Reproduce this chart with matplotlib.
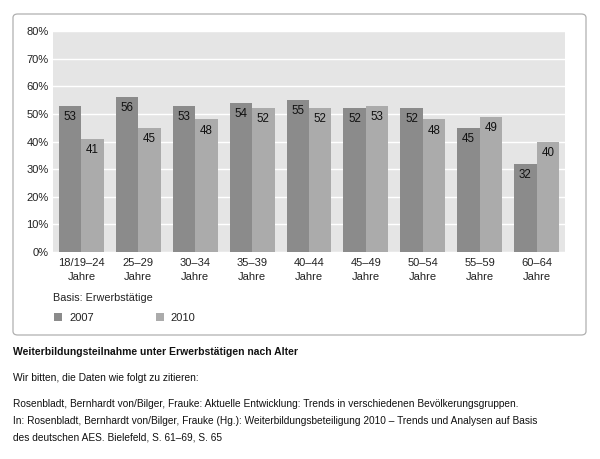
import matplotlib
matplotlib.use("Agg")
import matplotlib.pyplot as plt
from matplotlib.patches import FancyBboxPatch
import numpy as np

plt.rcParams["font.family"] = ["Liberation Sans", "DejaVu Sans"]

categories = ["18/19–24\nJahre", "25–29\nJahre", "30–34\nJahre", "35–39\nJahre",
              "40–44\nJahre", "45–49\nJahre", "50–54\nJahre", "55–59\nJahre",
              "60–64\nJahre"]
v2007 = [53, 56, 53, 54, 55, 52, 52, 45, 32]
v2010 = [41, 45, 48, 52, 52, 53, 48, 49, 40]
yticks = [0, 10, 20, 30, 40, 50, 60, 70, 80]

C2007 = "#8b8b8b"
C2010 = "#ababab"
W, H = 600, 459
FS = 7.7

fig = plt.figure(figsize=(6, 4.59), dpi=100)
fig.patch.set_facecolor("white")

# rounded frame around the chart
frame = FancyBboxPatch((13 / W, 1 - 335 / H), (586 - 13) / W, (335 - 14) / H,
                       boxstyle="round,pad=0,rounding_size=0.008",
                       transform=fig.transFigure, fc="white", ec="#b0b0b0", lw=0.9,
                       zorder=-5)
fig.patches.append(frame)

ax = fig.add_axes([53 / W, 1 - 252 / H, (565 - 53) / W, (252 - 31) / H])
ax.set_zorder(2)
ax.set_facecolor("#e5e5e5")
x = np.arange(len(categories))
bw = 0.395
b1 = ax.bar(x - bw / 2, v2007, bw, color=C2007, label="2007", zorder=3)
b2 = ax.bar(x + bw / 2, v2010, bw, color=C2010, label="2010", zorder=3)
for bars in (b1, b2):
    for rect in bars:
        h = rect.get_height()
        ax.annotate(f"{h:.0f}", (rect.get_x() + rect.get_width() / 2, h),
                    xytext=(0, -8), textcoords="offset points",
                    ha="center", va="center", fontsize=FS + 0.6, color="#111111", zorder=4)

ax.set_xlim(-0.5, len(categories) - 0.5)
ax.set_ylim(0, 80)
ax.set_yticks(yticks)
ax.set_yticklabels([f"{t}%" for t in yticks])
ax.set_xticks(x)
ax.set_xticklabels(categories, linespacing=1.55)
ax.tick_params(length=0, labelsize=FS + 0.3, colors="#222222")
ax.tick_params(axis="y", pad=3)
ax.tick_params(axis="x", pad=4)
ax.grid(axis="y", color="white", lw=1.0, zorder=1)
for s in ax.spines.values():
    s.set_visible(False)

fig.text(53 / W, 1 - 298 / H, "Basis: Erwerbstätige", fontsize=FS + 0.1,
         va="center", ha="left", color="#222222")
fig.legend(handles=[b1, b2], loc="center left", bbox_to_anchor=(44 / W, 1 - 318 / H),
           ncol=2, frameon=False, fontsize=FS + 0.3, handlelength=0.75, handleheight=0.75,
           handletextpad=0.6, columnspacing=5.6, labelcolor="#222222")

fig.text(13 / W, 1 - 352 / H, "Weiterbildungsteilnahme unter Erwerbstätigen nach Alter",
         fontsize=FS - 0.2, fontweight="bold", va="center", ha="left", color="#111111")
fig.text(13 / W, 1 - 378 / H, "Wir bitten, die Daten wie folgt zu zitieren:",
         fontsize=FS - 0.3, va="center", ha="left", color="#111111")
citation = ("Rosenbladt, Bernhardt von/Bilger, Frauke: Aktuelle Entwicklung: Trends in verschiedenen Bevölkerungsgruppen.\n"
            "In: Rosenbladt, Bernhardt von/Bilger, Frauke (Hg.): Weiterbildungsbeteiligung 2010 – Trends und Analysen auf Basis\n"
            "des deutschen AES. Bielefeld, S. 61–69, S. 65")
fig.text(13 / W, 1 - 399 / H, citation, fontsize=FS - 0.4, va="top", ha="left",
         color="#111111", linespacing=1.85)

fig.savefig("out.png", dpi=100, facecolor="white")
